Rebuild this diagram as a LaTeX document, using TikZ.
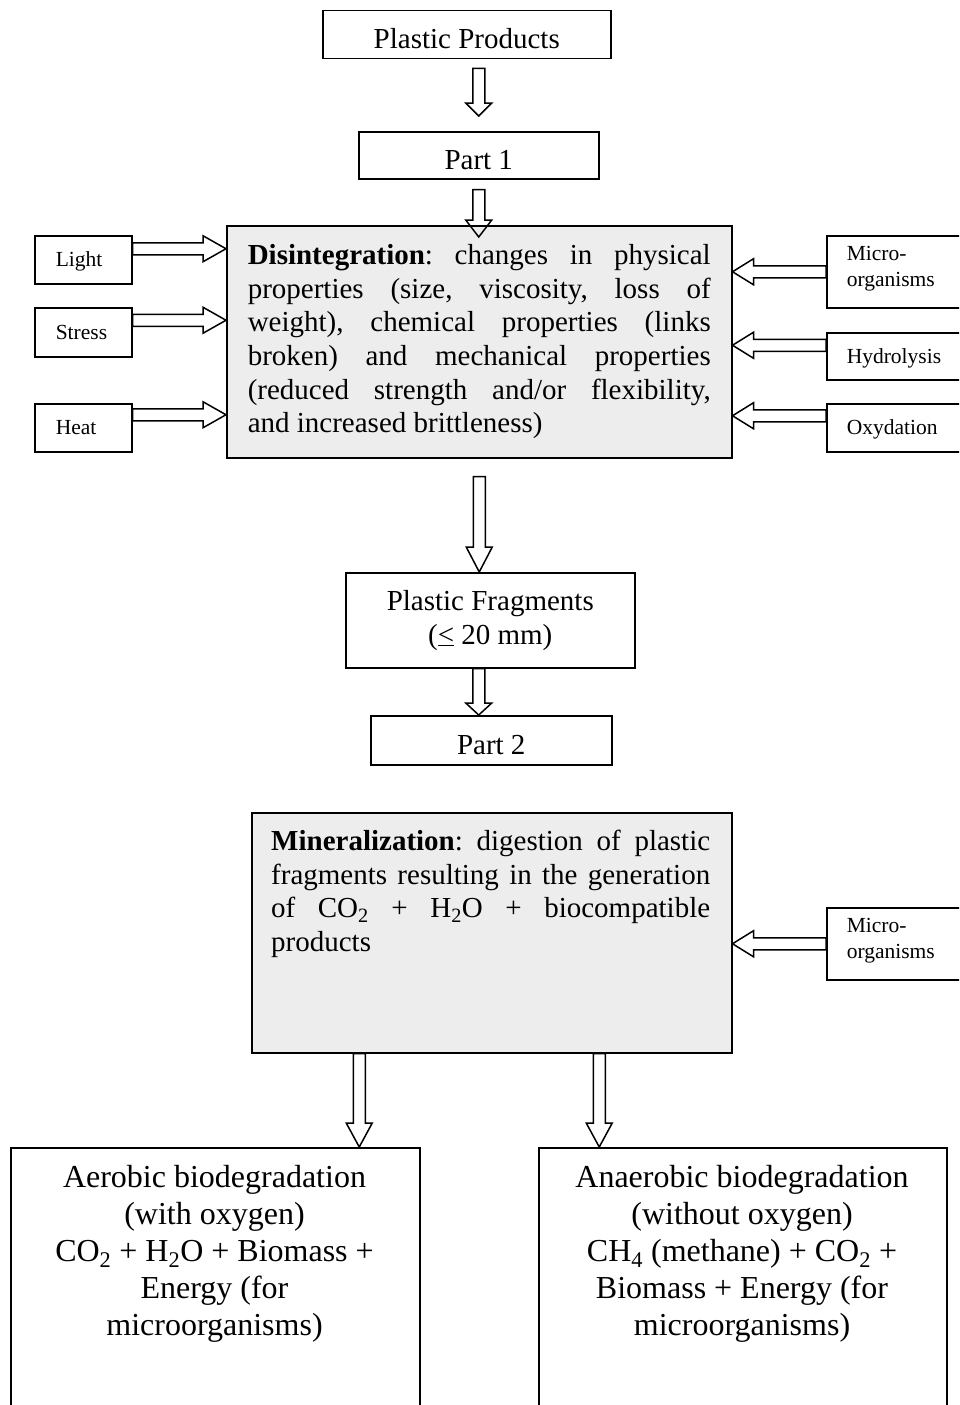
\documentclass[tikz,border=0pt]{standalone}
\usepackage{fontspec}
\setmainfont{Liberation Serif}
\usetikzlibrary{calc}
\definecolor{boxgray}{HTML}{EDEDED}
\newcommand\bigfont{\fontsize{29}{33.6}\selectfont}
\newcommand\smallfont{\fontsize{21.5}{26}\selectfont}
\newcommand\botfont{\fontsize{32}{37}\selectfont}
\newcommand\arrdown[3]{\draw[blk] let \p1=(#1), \p2=(#2) in
  (\x1-6pt,\y1) -- (\x1-6pt,\y2+#3pt) -- (\x1-13pt,\y2+#3pt) -- (\x1,\y2)
  -- (\x1+13pt,\y2+#3pt) -- (\x1+6pt,\y2+#3pt) -- (\x1+6pt,\y1) -- cycle;}
\newcommand\arrright[3]{\draw[blk] let \p1=(#1), \p2=(#2) in
  (\x1,\y1+6pt) -- (\x2-#3pt,\y1+6pt) -- (\x2-#3pt,\y1+13pt) -- (\x2,\y1)
  -- (\x2-#3pt,\y1-13pt) -- (\x2-#3pt,\y1-6pt) -- (\x1,\y1-6pt) -- cycle;}
\newcommand\arrleft[3]{\draw[blk] let \p1=(#1), \p2=(#2) in
  (\x1,\y1+6pt) -- (\x2+#3pt,\y1+6pt) -- (\x2+#3pt,\y1+13pt) -- (\x2,\y1)
  -- (\x2+#3pt,\y1-13pt) -- (\x2+#3pt,\y1-6pt) -- (\x1,\y1-6pt) -- cycle;}
\tikzset{
  box/.style={draw, line width=1.5pt, inner sep=0pt, anchor=north west},
  bigbox/.style={box, align=center, font=\bigfont},
  onebig/.style={bigbox, text height=28pt, text depth=0pt},
  smallbox/.style={box, align=left, font=\smallfont, text width=55pt, inner xsep=21pt, minimum height=48pt, text height=19pt, text depth=5pt},
  rightbox/.style={box, align=left, font=\smallfont, text width=109pt, inner xsep=20pt},
  oneright/.style={rightbox, text height=19pt, text depth=5pt},
  tworight/.style={rightbox, minimum height=72pt, text depth=36.7pt},
  blk/.style={draw, line width=1.5pt, line join=miter},
}
\begin{document}
\frenchspacing
\begin{tikzpicture}[x=1pt,y=-1pt]
\useasboundingbox (0,0) rectangle (959,1405);
\clip (0,0) rectangle (959,1405);

\node[onebig, minimum width=288pt, minimum height=48pt] (pp) at (322,10) {Plastic Products};
\node[onebig, minimum width=240pt, minimum height=47pt] (p1) at (358,131) {Part 1};
\node[box, fill=boxgray, font=\bigfont, text width=463pt, inner xsep=21pt, minimum height=232pt, align=justify] (dis) at (226,225)
 {\textbf{Disintegration}: changes in physical\linebreak
  properties (size, viscosity, loss of\linebreak
  weight), chemical properties (links\linebreak
  broken) and mechanical properties\linebreak
  (reduced strength and/or flexibility,\linebreak
  and increased brittleness)};

\node[smallbox] (light) at (34,235) {Light};
\node[smallbox, minimum height=49pt] (stress) at (34,307) {Stress};
\node[smallbox] (heat) at (34,403) {Heat};

\node[tworight] (mo1) at (826,235) {Micro-\\organisms};
\node[oneright, minimum height=47pt] (hyd) at (826,332) {Hydrolysis};
\node[oneright, minimum height=48pt] (oxy) at (826,403) {Oxydation};

\node[bigbox, minimum width=289pt, minimum height=95pt] (frag) at (345,572) {Plastic Fragments\\(\underline{<} 20 mm)};
\node[onebig, minimum width=241pt, minimum height=49pt] (p2) at (370,715) {Part 2};

\node[box, fill=boxgray, minimum width=480pt, minimum height=240pt] (min) at (251,812) {};
\node[anchor=north west, inner sep=0pt, text width=439pt, align=justify, font=\bigfont] (mint) at (271,830)
 {\textbf{Mineralization}: digestion of plastic\linebreak
  fragments resulting in the generation\linebreak
  of CO\textsubscript{2} + H\textsubscript{2}O + biocompatible\linebreak
  products};
\node[tworight] (mo2) at (826,907) {Micro-\\organisms};

\node[box, minimum width=409pt, minimum height=280pt] (aer) at (10,1147) {};
\node[anchor=north, inner sep=0pt, align=center, font=\botfont] (aert) at (214.5,1165)
 {Aerobic biodegradation\\(with oxygen)\\CO\textsubscript{2} + H\textsubscript{2}O + Biomass +\\Energy (for\\microorganisms)};
\node[box, minimum width=408pt, minimum height=280pt] (anaer) at (538,1147) {};
\node[anchor=north, inner sep=0pt, align=center, font=\botfont] (anaert) at (742,1165)
 {Anaerobic biodegradation\\(without oxygen)\\CH\textsubscript{4} (methane) + CO\textsubscript{2} +\\Biomass + Energy (for\\microorganisms)};

% arrows
\arrdown{$(p1.north |- pp.south)+(0,9)$}{$(p1.north)+(0,-15)$}{13}
\arrdown{$(p1.south)+(0,10)$}{$(p1.south |- dis.north)+(0,12)$}{17}
\arrdown{$(dis.south)+(0,18)$}{dis.south |- frag.north}{25}
\arrdown{$(frag.south)+(-11.5,0)$}{frag.south |- p2.north}{12}
\arrright{$(light.east)+(0,-11)$}{dis.west}{23}
\arrright{$(stress.east)+(0,-12)$}{dis.west}{23}
\arrright{$(heat.east)+(0,-13)$}{dis.west}{23}
\arrleft{mo1.west}{dis.east}{21}
\arrleft{$(hyd.west)+(0,-11)$}{dis.east}{21}
\arrleft{$(oxy.west)+(0,-12)$}{dis.east}{21}
\arrleft{mo2.west}{min.east}{21}
\arrdown{$(min.south)+(-132.5,0)$}{aer.north}{24}
\arrdown{$(min.south)+(107.5,0)$}{anaer.north}{24}
\end{tikzpicture}
\end{document}
